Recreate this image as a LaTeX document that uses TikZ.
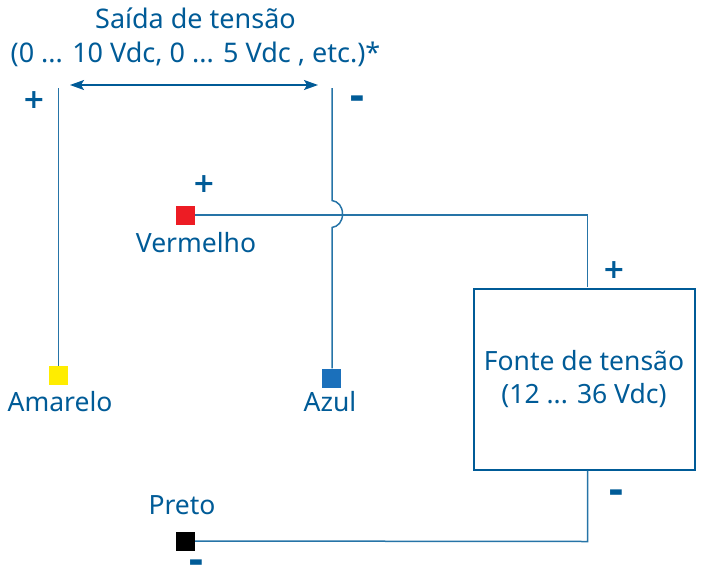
\documentclass[tikz,border=0pt]{standalone}
\usepackage{fontspec}
\setmainfont{Noto Sans}
\newfontfamily\signfont{DejaVu Sans Bold}
\usetikzlibrary{arrows.meta}
\definecolor{blu}{HTML}{005B97}
\tikzset{
  wire/.style={draw=blu!85!white,line width=1.5pt},
  lbl/.style={text=blu,font=\fontsize{26.5}{33.5}\selectfont,inner sep=0pt,align=center},
  plussign/.style={text=blu,font=\fontsize{27}{27}\signfont,inner sep=0pt},
  minussign/.style={text=blu,font=\fontsize{38}{38}\signfont,inner sep=0pt},
  term/.style={minimum size=19pt,inner sep=0pt,draw=none}
}
\begin{document}
\begin{tikzpicture}[x=1pt,y=-1pt]
\useasboundingbox (0,0) rectangle (702,571);
\node[lbl,font=\fontsize{27}{33.8}\selectfont] (title) at (195.5,37.3) {Saída de tensão\\(0 ... 10 Vdc, 0 ... 5 Vdc , etc.)*};
\node[plussign] (plusa) at (34,100) {+};
\node[minussign] (minusa) at (357,103) {-};
\node[plussign] (plusb) at (204,184) {+};
\node[plussign] (plusc) at (614,270) {+};
\node[minussign] (minusc) at (616,497) {-};
\node[minussign,anchor=base] (minusd) at (196,573) {\smash{-}};
\node[term,fill={rgb,255:red,237;green,28;blue,36}] (red) at (185.5,215) {};
\node[term,fill={rgb,255:red,255;green,237;blue,0}] (yellow) at (58,375.5) {};
\node[term,fill={rgb,255:red,27;green,112;blue,187}] (blue) at (331.5,378) {};
\node[term,fill=black] (black) at (185.5,541) {};
\node[lbl] (lred) at (196,243) {Vermelho};
\node[lbl] (lyellow) at (60,402) {Amarelo};
\node[lbl] (lblue) at (330,402) {Azul};
\node[lbl] (lblack) at (182,505) {Preto};
\node[draw=blu,line width=2pt,minimum width=221pt,minimum height=181pt,inner sep=0pt,align=center,
  text=blu,font=\fontsize{26.5}{33.5}\selectfont] (src) at (584,379) {\raisebox{4pt}{Fonte de tensão}\\\raisebox{4pt}{(12 ... 36 Vdc)}};
\coordinate (ta) at (58.5,88);
\coordinate (tb) at (332,88);
\coordinate (ja) at (332,200.5);
\coordinate (jb) at (332,227.5);
\coordinate (ar) at (70,85);
\coordinate (al) at (318,85);
\draw[wire] (ta) -- (yellow.north -| ta);
\draw[wire] (tb) -- (ja) .. controls (338,201.5) and (342.5,206) .. (342.5,214) .. controls (342.5,222) and (338,226.5) .. (jb) -- (blue.north -| jb);
\draw[wire] (red.east) -- (587.5,215) -- (587.5,287);
\draw[wire] (black.east) -- (587.5,541.5) -- (587.5,470.5);
\draw[blu,line width=1.5pt,{Stealth[length=14pt,width=10pt,inset=3pt]}-{Stealth[length=14pt,width=10pt,inset=3pt]}] (ar) -- (al);
\end{tikzpicture}
\end{document}
